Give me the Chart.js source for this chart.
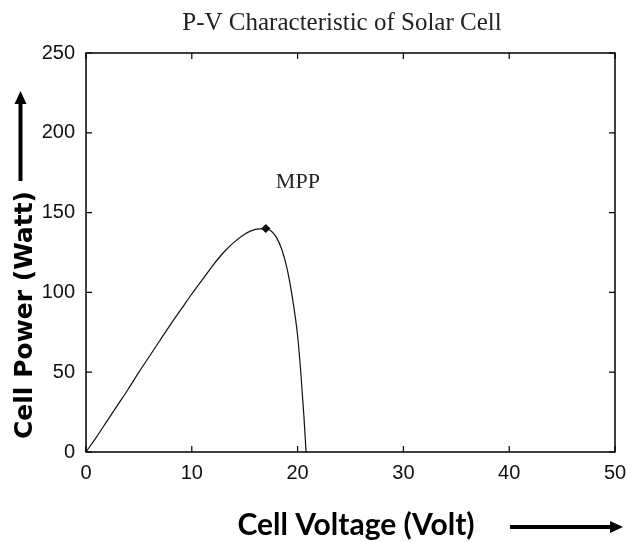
<!DOCTYPE html>
<html>
<head>
<meta charset="utf-8">
<script src="https://cdn.jsdelivr.net/npm/chart.js@4.4.1/dist/chart.umd.min.js"></script>
<style>
    html, body { margin: 0; padding: 0; background: #fff; }
    #wrap { width: 627px; height: 542px; }
</style>
</head>
<body>
<div id="wrap"><canvas id="pv"></canvas></div>
<script>
// P-V curve
const voltage = [0, 1, 2, 3, 4, 5, 6, 7, 8, 9, 10, 11, 12, 13, 14, 15, 16, 17, 17.5, 18, 18.5, 19, 19.5, 20, 20.3, 20.6, 20.8];
const power = [0, 9.5, 19.5, 29.5, 39.5, 50, 60, 70, 80, 89.5, 99, 108, 117, 125, 131.5, 136.5, 139.5, 140, 138.5, 134.5, 127, 115, 97, 73, 50, 22, 0];
const mppVoltage = [17];
const mppPower = [140];
const xTicks = [0, 10, 20, 30, 40, 50];
const yTicks = [0, 50, 100, 150, 200, 250];

const titleText = 'P-V Characteristic of Solar Cell';
const xTitle = 'Cell Voltage (Volt)';
const yTitle = 'Cell Power (Watt)';
const mppText = 'MPP';

function arrow(ctx, x1, y1, x2, y2) {
    let ang = Math.atan2(y2 - y1, x2 - x1);
    let head = 13, half = 6;
    ctx.beginPath();
    ctx.moveTo(x1, y1);
    ctx.lineTo(x2 - head * Math.cos(ang), y2 - head * Math.sin(ang));
    ctx.stroke();
    ctx.beginPath();
    ctx.moveTo(x2, y2);
    ctx.lineTo(x2 - head * Math.cos(ang) - half * Math.sin(ang), y2 - head * Math.sin(ang) + half * Math.cos(ang));
    ctx.lineTo(x2 - head * Math.cos(ang) + half * Math.sin(ang), y2 - head * Math.sin(ang) - half * Math.cos(ang));
    ctx.closePath();
    ctx.fill();
}

const decorations = {
    id: 'decorations',
    afterDraw(chart) {
        const ctx = chart.ctx;
        const area = chart.chartArea;
        const xs = chart.scales.x, ys = chart.scales.y;
        ctx.save();
        ctx.strokeStyle = '#000';
        ctx.fillStyle = '#000';

        // box and inward ticks, matlab style
        ctx.lineWidth = 1.5;
        ctx.strokeRect(area.left, area.top, area.right - area.left, area.bottom - area.top);
        ctx.lineWidth = 1.2;
        ctx.beginPath();
        xTicks.forEach(v => {
            let px = xs.getPixelForValue(v);
            ctx.moveTo(px, area.bottom); ctx.lineTo(px, area.bottom - 6);
            ctx.moveTo(px, area.top); ctx.lineTo(px, area.top + 6);
        });
        yTicks.forEach(v => {
            let py = ys.getPixelForValue(v);
            ctx.moveTo(area.left, py); ctx.lineTo(area.left + 6, py);
            ctx.moveTo(area.right, py); ctx.lineTo(area.right - 6, py);
        });
        ctx.stroke();

        // title
        ctx.font = '25px "Liberation Serif", "Times New Roman", serif';
        ctx.textAlign = 'center';
        ctx.textBaseline = 'alphabetic';
        ctx.fillStyle = '#222';
        ctx.fillText(titleText, 342, 30);

        // MPP label
        ctx.font = '22px "Liberation Serif", "Times New Roman", serif';
        let mx = xs.getPixelForValue(mppVoltage[0]);
        let my = ys.getPixelForValue(mppPower[0]);
        ctx.fillText(mppText, mx + 32, my - 41);

        // x axis title and arrow
        ctx.fillStyle = '#000';
        ctx.font = 'bold 30px Lato, "Open Sans", sans-serif';
        ctx.fillText(xTitle, 356, 535);
        ctx.lineWidth = 4;
        arrow(ctx, 510, 527, 623, 527);

        // y axis title and arrow
        ctx.save();
        ctx.translate(32, 315);
        ctx.rotate(-Math.PI / 2);
        ctx.font = 'bold 25px "DejaVu Sans", Verdana, sans-serif';
        ctx.fillText(yTitle, 0, 0);
        ctx.restore();
        arrow(ctx, 20.5, 181, 20.5, 91);

        ctx.restore();
    }
};

const points = voltage.map((v, i) => ({ x: v, y: power[i] }));
const mpp = mppVoltage.map((v, i) => ({ x: v, y: mppPower[i] }));
const tickFont = { family: '"Liberation Sans", Arial, sans-serif', size: 20 };

new Chart(document.getElementById('pv'), {
    type: 'line',
    data: {
        datasets: [
            {
                data: points,
                borderColor: '#111',
                borderWidth: 1.2,
                pointRadius: 0,
                cubicInterpolationMode: 'monotone',
                fill: false
            },
            {
                data: mpp,
                showLine: false,
                pointStyle: 'rectRot',
                pointRadius: 4,
                pointBackgroundColor: '#000',
                pointBorderColor: '#000'
            }
        ]
    },
    options: {
        responsive: true,
        maintainAspectRatio: false,
        animation: false,
        layout: { padding: { left: 0, right: 12, top: 53, bottom: 0 } },
        plugins: {
            legend: { display: false },
            tooltip: { enabled: false },
            title: { display: false }
        },
        scales: {
            x: {
                type: 'linear',
                min: 0,
                max: 50,
                grid: { display: false },
                border: { display: false },
                afterFit: scale => {
                    scale.height = 90;
                    scale.paddingLeft = 0;
                    scale.paddingRight = 0;
                },
                afterBuildTicks: scale => { scale.ticks = xTicks.map(v => ({ value: v })); },
                ticks: { color: '#111', font: tickFont, padding: 1, maxRotation: 0 }
            },
            y: {
                type: 'linear',
                min: 0,
                max: 250,
                grid: { display: false },
                border: { display: false },
                afterFit: scale => {
                    scale.width = 86;
                    scale.paddingTop = 0;
                    scale.paddingBottom = 0;
                },
                afterBuildTicks: scale => { scale.ticks = yTicks.map(v => ({ value: v })); },
                ticks: { color: '#111', font: tickFont, padding: 3 }
            }
        }
    },
    plugins: [decorations]
});
</script>
</body>
</html>
